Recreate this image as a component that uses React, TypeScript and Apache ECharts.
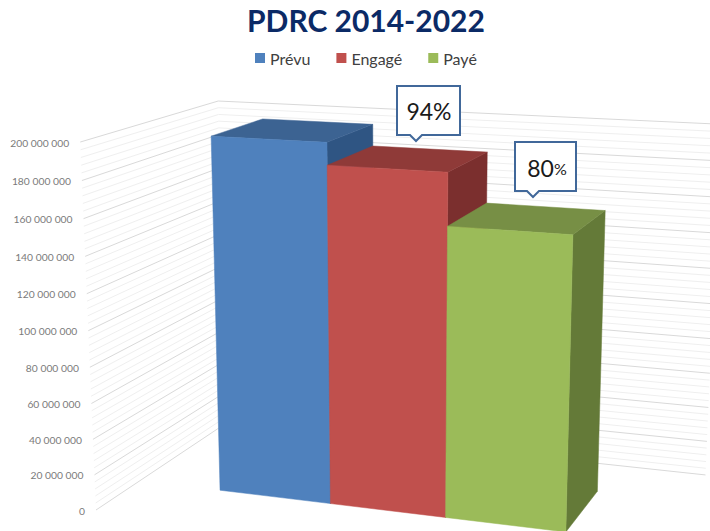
import React, { useEffect, useRef } from "react";
import * as echarts from "echarts";

const categories = ["Prévu", "Engagé", "Payé"];
const prevuValues = [198000000];
const engageValues = [186000000];
const payeValues = [158000000];
const tickLabels = [
  "0", "20 000 000", "40 000 000", "60 000 000", "80 000 000", "100 000 000",
  "120 000 000", "140 000 000", "160 000 000", "180 000 000", "200 000 000",
];
const axisMax = 200000000;
const majorStep = 20000000;
const minorStep = 4000000;
const callouts = [
  { main: "94%", small: "" },
  { main: "80", small: "%" },
];

const FONT = "Lato";
const palette = [
  { front: "#4f81bd", top: "#3c6392", side: "#2f5583" },
  { front: "#c0504d", top: "#8f3a38", side: "#7b2f2e" },
  { front: "#9bbb59", top: "#778f45", side: "#647a38" },
];

// three-point perspective of the 3D chart box
const VX = [-5000, -140];
const VY = [399, 7600];
const VZ = [1103, -162];
const ORIGIN = [96, 510];
const SX = -0.0965;
const SY = -0.04934;
const SZ = 0.1482;
const BAR_X0 = 0.166;
const BAR_X1 = 0.829;
const BAR_Z0 = 0.309;
const BAR_Z1 = 0.715;

function project(X: number, Y: number, Z: number): number[] {
  const p = SX * X;
  const r = SY * Y;
  const q = SZ * Z;
  const w = p + r + q + 1;
  return [
    (p * VX[0] + r * VY[0] + q * VZ[0] + ORIGIN[0]) / w,
    (p * VX[1] + r * VY[1] + q * VZ[1] + ORIGIN[1]) / w,
  ];
}

const GRID_LEFT = 94;
const GRID_TOP = 142;
const GRID_H = 368;
const LABEL_MARGIN = 8;

function labelRich() {
  const rich: Record<string, any> = {};
  tickLabels.forEach((_, i) => {
    const Y = (i * majorStep) / axisMax;
    const pt = project(0, Y, 0);
    const linearY = GRID_TOP + GRID_H * (1 - Y);
    const dy = pt[1] + 0.5 - linearY;
    const right = Math.max(0, GRID_LEFT - LABEL_MARGIN - (pt[0] - 11));
    rich["t" + i] = {
      fontFamily: FONT,
      fontSize: 10.3,
      color: "#7a7a7a",
      padding: [dy > 0 ? 2 * dy : 0, right, dy < 0 ? -2 * dy : 0, 0],
    };
  });
  return rich;
}

function renderBar(colorIndex: number) {
  return (params: any, api: any) => {
    const cs = params.coordSys;
    const band = api.size([1, 0])[0];
    const c = api.coord([api.value(0), api.value(1)]);
    const toX = (sx: number) =>
      BAR_X0 + ((sx - cs.x) / cs.width) * (BAR_X1 - BAR_X0);
    const x0 = toX(c[0] - band / 2);
    const x1 = toX(c[0] + band / 2);
    const y = (cs.y + cs.height - c[1]) / cs.height;
    const col = palette[colorIndex];
    const poly = (pts: number[][], fill: string) => ({
      type: "polygon",
      shape: { points: pts },
      style: { fill, stroke: fill, lineWidth: 0.5 },
      silent: true,
    });
    return {
      type: "group",
      children: [
        poly(
          [project(x1, 0, BAR_Z0), project(x1, 0, BAR_Z1), project(x1, y, BAR_Z1), project(x1, y, BAR_Z0)],
          col.side
        ),
        poly(
          [project(x0, y, BAR_Z0), project(x1, y, BAR_Z0), project(x1, y, BAR_Z1), project(x0, y, BAR_Z1)],
          col.top
        ),
        poly(
          [project(x0, 0, BAR_Z0), project(x1, 0, BAR_Z0), project(x1, y, BAR_Z0), project(x0, y, BAR_Z0)],
          col.front
        ),
      ],
    };
  };
}

function renderWallLine(params: any, api: any) {
  const cs = params.coordSys;
  const v = api.value(1);
  const c = api.coord([0, v]);
  const y = (cs.y + cs.height - c[1]) / cs.height;
  const major = Math.round(v / minorStep) % Math.round(majorStep / minorStep) === 0;
  const stroke = major ? "#d9d9d9" : "#efefef";
  return {
    type: "polyline",
    shape: { points: [project(0, y, 0), project(0, y, 1), project(1, y, 1)] },
    style: { stroke, fill: "none", lineWidth: 1 },
    silent: true,
  };
}

const wallValues: number[][] = [];
for (let v = 0; v <= axisMax; v += minorStep) wallValues.push([0, v]);

function calloutGraphic() {
  const box = (x0: number, y0: number, x1: number, y1: number, b0: number, b1: number, tip: number[]) => ({
    type: "polygon",
    shape: {
      points: [[x0, y0], [x1, y0], [x1, y1], [b1, y1], tip, [b0, y1], [x0, y1]],
    },
    style: { fill: "#ffffff", stroke: "#41689a", lineWidth: 2 },
    z: 50,
  });
  const label = (x: number, y: number, c: { main: string; small: string }) => ({
    type: "text",
    x,
    y,
    z: 51,
    style: {
      text: c.small ? `{m|${c.main}}{s|${c.small}}` : `{m|${c.main}}`,
      align: "center",
      verticalAlign: "middle",
      rich: {
        m: { fontFamily: FONT, fontSize: 23, fill: "#1a1a1a", color: "#1a1a1a" },
        s: { fontFamily: FONT, fontSize: 16, fill: "#1a1a1a", color: "#1a1a1a" },
      },
    },
  });
  return [
    box(397, 86, 460, 135, 410, 422, [416, 141]),
    label(429, 111, callouts[0]),
    box(515, 142, 576, 191, 527, 539, [533, 197]),
    label(547, 168, callouts[1]),
  ];
}

export default function App() {
  const ref = useRef<HTMLDivElement>(null);
  useEffect(() => {
    document.body.style.margin = "0";
    const chart = echarts.init(ref.current!, null, { renderer: "svg" });
    const seriesValues = [prevuValues, engageValues, payeValues];
    chart.setOption({
      animation: false,
      backgroundColor: "#ffffff",
      title: {
        text: "PDRC 2014-2022",
        left: 247,
        top: 5,
        padding: 0,
        textStyle: { fontFamily: FONT, fontWeight: "bold", fontSize: 30, color: "#0b2a66" },
      },
      legend: {
        data: categories,
        left: 255,
        top: 50,
        padding: 0,
        icon: "rect",
        itemWidth: 10,
        itemHeight: 10,
        itemGap: 26,
        selectedMode: false,
        textStyle: { fontFamily: FONT, fontSize: 16, color: "#404040" },
      },
      grid: { left: GRID_LEFT, top: GRID_TOP, width: 600, height: GRID_H, containLabel: false },
      xAxis: { type: "category", data: categories, show: false },
      yAxis: {
        type: "value",
        min: 0,
        max: axisMax,
        interval: majorStep,
        axisLine: { show: false },
        axisTick: { show: false },
        splitLine: { show: false },
        axisLabel: {
          margin: LABEL_MARGIN,
          formatter: (_v: number, i: number) => `{t${i}|${tickLabels[i]}}`,
          rich: labelRich(),
        },
      },
      series: [
        {
          type: "custom",
          name: "grid",
          clip: false,
          silent: true,
          z: 1,
          data: wallValues,
          encode: { x: 0, y: 1 },
          renderItem: renderWallLine,
        },
        ...categories.map((name, i) => ({
          type: "custom",
          name,
          clip: false,
          silent: true,
          z: 2 + i,
          itemStyle: { color: palette[i].front },
          data: seriesValues[i].map((v) => [i, v]),
          encode: { x: 0, y: 1 },
          renderItem: renderBar(i),
        })),
      ],
      graphic: calloutGraphic(),
    });
    return () => chart.dispose();
  }, []);
  return <div ref={ref} style={{ position: "fixed", left: 0, top: 0, width: 710, height: 531 }} />;
}
